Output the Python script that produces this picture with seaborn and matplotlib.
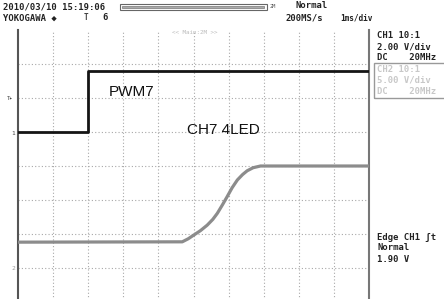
import matplotlib
matplotlib.use("Agg")
import matplotlib.pyplot as plt
import seaborn as sns
import pandas as pd
from matplotlib.patches import Rectangle

# ---- data (time in divisions, voltage in divisions) ----
ch1_t = [0.0, 2.0, 2.0, 10.0]
ch1_v = [1.0, 1.0, 2.8, 2.8]
ch2_t = [0.0, 4.68, 4.85, 5.01, 5.2, 5.39, 5.55, 5.68, 5.82, 5.96, 6.1, 6.25,
         6.4, 6.53, 6.7, 6.91, 10.0]
ch2_v = [-2.24, -2.23, -2.14, -2.03, -1.9, -1.74, -1.57, -1.39, -1.15, -0.90,
         -0.64, -0.41, -0.25, -0.14, -0.05, 0.0, 0.0]
trace_labels = ["PWM7", "CH7 4LED"]

header_left = ["2010/03/10 15:19:06", "YOKOGAWA \u25c6"]
header_right = ["Normal", "200MS/s", "1ms/div"]
ch1_info = ["CH1 10:1", "2.00 V/div", "DC    20MHz"]
ch2_info = ["CH2 10:1", "5.00 V/div", "DC    20MHz"]
trig_info = ["Edge CH1 \u0283t", "Normal", "1.90 V"]

sns.set_style("white")
plt.rcParams["font.family"] = ["DejaVu Sans Mono", "DejaVu Sans"]

W, H = 444, 299
fig = plt.figure(figsize=(W / 100, H / 100), dpi=100)
fig.patch.set_facecolor("white")

def fx(px):
    return px / W

def fy(py):
    return 1 - py / H

# main scope area: x 18..369, y 30..302
ax = fig.add_axes([fx(18), fy(302), (369 - 18) / W, 272 / H])
ax.set_xlim(0, 10)
ax.set_ylim(-4, 4)
ax.set_xticks([])
ax.set_yticks([])
for i in range(1, 10):
    ax.axvline(i, color="#a8a8a8", lw=0.8, ls=(0, (1, 2)), zorder=1)
for j in range(-3, 4):
    ax.axhline(j, color="#a8a8a8", lw=0.8, ls=(0, (1, 2)), zorder=1)
for s in ["top", "bottom"]:
    ax.spines[s].set_visible(False)
ax.spines["left"].set_color("#555555")
ax.spines["left"].set_linewidth(1.5)
ax.spines["right"].set_color("#777777")
ax.spines["right"].set_linewidth(1.5)

df1 = pd.DataFrame({"t": ch1_t, "v": ch1_v})
df2 = pd.DataFrame({"t": ch2_t, "v": ch2_v})
sns.lineplot(data=df2, x="t", y="v", ax=ax, estimator=None, sort=False,
             color="#8c8c8c", lw=2.3, zorder=3)
sns.lineplot(data=df1, x="t", y="v", ax=ax, estimator=None, sort=False,
             color="#151515", lw=2.0, zorder=4)
ax.set_xlabel("")
ax.set_ylabel("")

lab_font = ["Liberation Sans", "DejaVu Sans"]
fig.text(fx(109), fy(92), trace_labels[0], fontsize=11, family=lab_font,
         va="center", ha="left", color="#111111")
fig.text(fx(187), fy(130), trace_labels[1], fontsize=11, family=lab_font,
         va="center", ha="left", color="#111111")

fs = 6.4
# header
fig.text(fx(3), fy(7), header_left[0], fontsize=fs, weight="bold", va="center", color="#222222")
fig.text(fx(3), fy(18), header_left[1], fontsize=fs, weight="bold", va="center", color="#222222")
fig.text(fx(84), fy(18), "T", fontsize=5.5, weight="bold", va="center", color="#444444")
fig.text(fx(102), fy(18), "6", fontsize=fs, weight="bold", va="center", color="#222222")
fig.text(fx(296), fy(6), header_right[0], fontsize=fs, weight="bold", va="center", color="#222222")
fig.text(fx(285), fy(18), header_right[1], fontsize=fs, weight="bold", va="center", color="#222222")
fig.text(fx(340), fy(18), header_right[2], fontsize=5.6, weight="bold", va="center", color="#222222")
fig.text(fx(270), fy(7), "2M", fontsize=3.8, va="center", color="#555555")
# scrollbar
fig.patches.append(Rectangle((fx(120), fy(10)), (267 - 120) / W, 6 / H,
                             transform=fig.transFigure, fill=False,
                             ec="#666666", lw=0.8))
fig.patches.append(Rectangle((fx(122), fy(8)), (264 - 122) / W, 2 / H,
                             transform=fig.transFigure, fill=True,
                             fc="#aaaaaa", ec="#777777", lw=0.5))
fig.text(fx(195), fy(33), "<< Main:2M >>", fontsize=4.2, ha="center", va="center",
         color="#bbbbbb")

# right panel
for k, s in enumerate(ch1_info):
    fig.text(fx(377), fy(36 + 11 * k), s, fontsize=fs, weight="bold", va="center",
             color="#222222")
fig.patches.append(Rectangle((fx(374), fy(98)), (446 - 374) / W, 35 / H,
                             transform=fig.transFigure, fill=False,
                             ec="#999999", lw=1.0))
for k, s in enumerate(ch2_info):
    fig.text(fx(377), fy(69 + 11 * k), s, fontsize=fs, weight="bold", va="center",
             color="#c8c8c8")
for k, s in enumerate(trig_info):
    fig.text(fx(377), fy(237 + 11 * k), s, fontsize=fs, weight="bold", va="center",
             color="#222222")

# left markers
fig.text(fx(7), fy(98), "T\u25b8", fontsize=4, va="center", color="#444444")
fig.text(fx(11), fy(134), "1", fontsize=4.5, va="center", color="#444444")
fig.text(fx(11), fy(268), "2", fontsize=4.5, va="center", color="#999999")

fig.savefig("out.png", dpi=100, facecolor="white")
